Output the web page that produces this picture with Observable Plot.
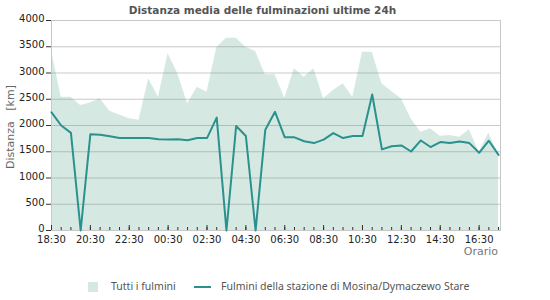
<!DOCTYPE html>
<html><head><meta charset="utf-8">
<script src="https://cdn.jsdelivr.net/npm/d3@7"></script>
<script src="https://cdn.jsdelivr.net/npm/@observablehq/plot@0.6"></script>
<style>
body{margin:0;background:#fff;}
#wrap{position:relative;width:550px;height:300px;font-family:"DejaVu Sans",sans-serif;overflow:hidden;}
#chart{position:absolute;left:0;top:0;}
#title{position:absolute;left:0;top:4px;width:525px;text-align:center;font-weight:bold;font-size:10.5px;color:#555;}
#ylab{position:absolute;left:10px;top:127px;transform:translate(-50%,-50%) rotate(-90deg);white-space:nowrap;font-size:11px;color:#666;}
#xlab{position:absolute;right:52px;top:245px;font-size:11px;color:#777;}
.lg{position:absolute;font-family:"Noto Sans",sans-serif;font-size:10.5px;color:#555;white-space:nowrap;}
</style></head><body>
<div id="wrap">
<div id="chart"></div>
<div id="title">Distanza media delle fulminazioni ultime 24h</div>
<div id="ylab">Distanza&nbsp;&nbsp;&nbsp;[km]</div>
<div id="xlab">Orario</div>
<div style="position:absolute;left:88px;top:282px;width:10px;height:10px;background:#d5e9e2;"></div>
<div class="lg" style="left:111px;top:279px;">Tutti i fulmini</div>
<div style="position:absolute;left:194px;top:286px;width:17px;height:2px;background:#2a918c;"></div>
<div class="lg" style="left:221px;top:279px;">Fulmini della stazione di Mosina/Dymaczewo Stare</div>
</div>
<script>
const times = ["18:30","19:00","19:30","20:00","20:30","21:00","21:30","22:00","22:30","23:00","23:30",
  "00:00","00:30","01:00","01:30","02:00","02:30","03:00","03:30","04:00","04:30","05:00","05:30",
  "06:00","06:30","07:00","07:30","08:00","08:30","09:00","09:30","10:00","10:30","11:00","11:30",
  "12:00","12:30","13:00","13:30","14:00","14:30","15:00","15:30","16:00","16:30","17:00","17:30"];
const allValues = [3430,2540,2540,2380,2430,2510,2270,2200,2130,2100,2890,2540,3366,2985,2413,2730,2635,
  3480,3663,3663,3492,3410,2966,2966,2520,3080,2920,3080,2510,2667,2794,2540,3397,3397,2794,2648,2510,
  2130,1873,1937,1797,1810,1778,1918,1490,1854,1440];
const stationValues = [2250,2000,1860,0,1835,1822,1797,1760,1760,1760,1760,1740,1735,1740,1720,1760,1760,
  2150,0,1990,1800,0,1920,2260,1775,1775,1700,1665,1730,1855,1760,1800,1800,2590,1545,1605,1620,1505,
  1715,1590,1685,1665,1695,1665,1480,1710,1440];
const xTickLabels = ["18:30","20:30","22:30","00:30","02:30","04:30","06:30","08:30","10:30","12:30","14:30","16:30"];
const yTicks = [0,500,1000,1500,2000,2500,3000,3500,4000];

const parse = t => { const [h,m] = t.split(":").map(Number); const day = t >= "18:30" ? 0 : 1; return new Date(Date.UTC(2024,0,1+day,h,m)); };
const data = times.map((t,i) => ({time: parse(t), all: allValues[i], station: stationValues[i]}));
const minorDates = times.map(parse);
const majorDates = xTickLabels.map(parse);
const x0 = parse(times[0]);
const x1 = new Date(+parse(times[times.length-1]) + 6*60000);
const fmt = d3.utcFormat("%H:%M");

const chart = Plot.plot({
  width: 550, height: 265,
  marginTop: 20, marginBottom: 35, marginLeft: 51, marginRight: 50,
  style: {fontFamily: "DejaVu Sans", fontSize: "10px", color: "#222", background: "transparent", overflow: "visible"},
  x: {type: "utc", domain: [x0, x1]},
  y: {domain: [0, 4000]},
  marks: [
    Plot.areaY(data, {x: "time", y: "all", fill: "#d5e9e2"}),
    Plot.gridY({ticks: yTicks, stroke: "#888", strokeOpacity: 0.45}),
    Plot.frame({stroke: "#c8c8c8"}),
    Plot.axisY({ticks: yTicks, tickSize: 5, tickFormat: () => "", label: null, stroke: "#333"}),
    Plot.axisY({ticks: yTicks, tickSize: 0, tickPadding: 7, tickFormat: d3.format("d"), label: null, dy: -1.5}),
    Plot.axisX({ticks: majorDates, tickSize: 0, tickPadding: 5, tickFormat: fmt, label: null}),
    Plot.axisX({ticks: majorDates, tickSize: 5, dy: -5, tickFormat: () => "", label: null, stroke: "#333"}),
    Plot.axisX({ticks: minorDates, tickSize: 3, dy: -3, tickFormat: () => "", label: null, stroke: "#333"}),
    Plot.lineY(data, {x: "time", y: "station", stroke: "#2a918c", strokeWidth: 2})
  ]
});
document.getElementById("chart").appendChild(chart);
</script>
</body></html>
